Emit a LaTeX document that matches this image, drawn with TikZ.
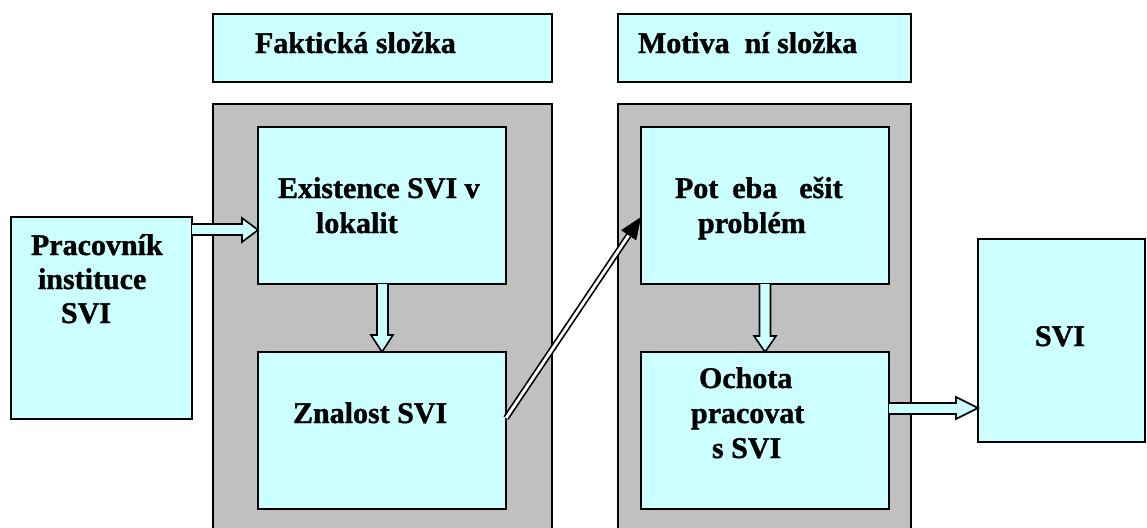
\documentclass[tikz,border=0pt]{standalone}
\usepackage{fontspec}
\setmainfont{Liberation Serif}[BoldFeatures={FakeBold=1.2}]
\usetikzlibrary{calc,arrows.meta}
\definecolor{cyanbox}{HTML}{CCFFFF}
\definecolor{panelgray}{HTML}{C0C0C0}
\begin{document}
\begin{tikzpicture}[x=1pt,y=-1pt,
  box/.style={draw=black, line width=1.6pt, fill=cyanbox, inner sep=0pt, outer sep=0pt, anchor=north west},
  panel/.style={draw=black, line width=1.6pt, fill=panelgray, inner sep=0pt, outer sep=0pt, anchor=north west},
  txt/.style={anchor=base west, inner sep=0pt, outer sep=0pt, font=\fontsize{30}{35}\selectfont\bfseries},
  blockarrow/.style={draw=black, line width=1.6pt, fill=cyanbox, line join=miter},
  dblarrow/.style={draw=black, line width=1.7pt, double=white, double distance=2.8pt},
  headtip/.style={draw=black, fill=black, line width=0.5pt, -{Triangle[length=22pt,width=18pt]}}]
\clip (0,0) rectangle (1147,527);
\fill[white] (0,0) rectangle (1147,527);
% panels
\node[panel, minimum width=339pt, minimum height=440pt] (panelF) at (213,104) {};
\node[panel, minimum width=293pt, minimum height=440pt] (panelM) at (618,104) {};
% titles
\node[box, minimum width=339pt, minimum height=68pt] (titleF) at (213,14) {};
\node[box, minimum width=293pt, minimum height=68pt] (titleM) at (618,14) {};
% boxes
\node[box, minimum width=181pt, minimum height=202pt] (prac) at (11,217) {};
\node[box, minimum width=248pt, minimum height=157pt] (exist) at (258,127) {};
\node[box, minimum width=248pt, minimum height=157pt] (znal) at (258,352) {};
\node[box, minimum width=248pt, minimum height=157pt] (pot) at (641,127) {};
\node[box, minimum width=248pt, minimum height=157pt] (ochota) at (641,352) {};
\node[box, minimum width=167pt, minimum height=203pt] (svi) at (978,239) {};
% texts
\node[txt] (tF) at (255,53) {Faktická složka};
\node[txt] (tM) at (638,53) {Motiva\hspace{15pt}ní složka};
\node[txt] (tE1) at (278,198) {Existence SVI v};
\node[txt] (tE2) at (316,233) {lokalit};
\node[txt] (tP1) at (675,198) {Pot\hspace{14pt}eba\hspace{22pt}ešit};
\node[txt] (tP2) at (698,233) {problém};
\node[txt] (tR1) at (31,255) {Pracovník};
\node[txt] (tR2) at (38,289) {instituce};
\node[txt] (tR3) at (61,323) {SVI};
\node[txt] (tZ) at (293,423) {Znalost SVI};
\node[txt] (tO1) at (699,388) {Ochota};
\node[txt] (tO2) at (691,423) {pracovat};
\node[txt] (tO3) at (712,458) {s SVI};
\node[txt] (tS) at (1035,346) {SVI};
% block arrows
\draw[blockarrow] (prac.east |- 0,224) -- (242,224) -- (242,218) -- (exist.west |- 0,230) -- (242,242) -- (242,235) -- (prac.east |- 0,235);
\draw[blockarrow] (exist.south -| 377,0) -- (377,335) -- (371,335) -- (znal.north) -- (393,335) -- (388,335) -- (exist.south -| 388,0);
\draw[blockarrow] (pot.south -| 759.5,0) -- (759.5,336) -- (754,336) -- (ochota.north) -- (776,336) -- (770.5,336) -- (pot.south -| 770.5,0);
\draw[blockarrow] (ochota.east |- 0,403) -- (956,403) -- (956,397) -- (svi.west |- 0,408) -- (956,419) -- (956,414) -- (ochota.east |- 0,414);
% double arrow
\coordinate (dstart) at ($(znal.east)+(0,-12.5)$);
\coordinate (dtip) at ($(pot.west)+(0,11.5)$);
\draw[dblarrow] (dstart) -- ($(dtip)!18pt!(dstart)$);
\draw[headtip] ($(dtip)!1pt!(dstart)$) -- (dtip);
\end{tikzpicture}
\end{document}
